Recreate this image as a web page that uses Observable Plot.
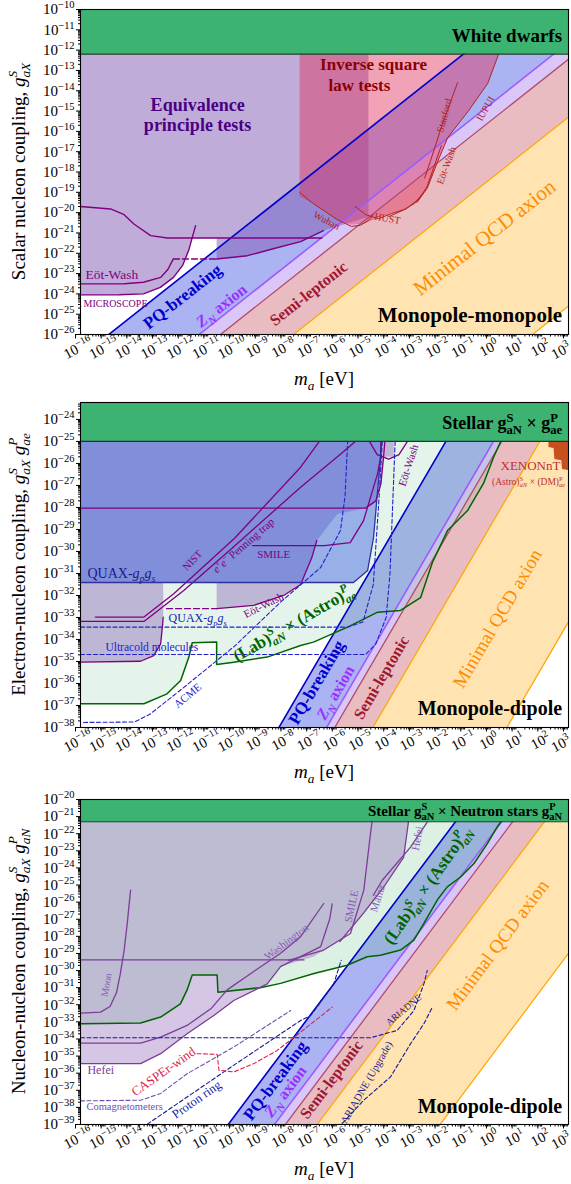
<!DOCTYPE html>
<html><head><meta charset="utf-8">
<script src="https://cdn.jsdelivr.net/npm/d3@7"></script>
<script src="https://cdn.jsdelivr.net/npm/@observablehq/plot@0.6"></script>
<style>
body{margin:0;background:#fff;}
#chart{line-height:0;}
#chart svg{display:block;}
</style></head><body><div id="chart"></div><script>
const FONT = "'Liberation Serif', 'DejaVu Serif', serif";
const W = 571;

// ---------- tick labels (exponents of ten) ----------
const xTickExps = [-16,-15,-14,-13,-12,-11,-10,-9,-8,-7,-6,-5,-4,-3,-2,-1,0,1,2,3];
const p1YTickExps = [-26,-25,-24,-23,-22,-21,-20,-19,-18,-17,-16,-15,-14,-13,-12,-11,-10];
const p2YTickExps = [-38,-37,-36,-35,-34,-33,-32,-31,-30,-29,-28,-27,-26,-25,-24];
const p3YTickExps = [-39,-38,-37,-36,-35,-34,-33,-32,-31,-30,-29,-28,-27,-26,-25,-24,-23,-22,-21,-20];
const p1YDomain = [-26, -10];
const p2YDomain = [-38, -23.23];
const p3YDomain = [-39, -20];

// ---------- data: [log10 m_a, log10 g] ----------
// Panel 1: monopole-monopole
const p1WD = [-12.2, -10];
const p1PQ = [[-16,-27.1],[3,-8.1]];
const p1ZN = [[-16,-30.62],[3,-11.62]];
const p1SL = [[-16,-31.45],[3,-12.45]];
const p1QCDup = [[-16,-34.3],[3,-15.3]];
const p1QCDlo = [[-16,-43.6],[3,-24.6]];
const p1EP = [[-16,-10],[-16,-24.05],[-14.5,-24.04],[-13.55,-24.0],[-12.89,-23.68],[-12.38,-23.19],[-12.03,-22.61],[-11.79,-21.87],[-11.65,-21.25],[-10.7,-21.25],[-10.7,-22.28],[-9.5,-22.12],[-8.5,-21.78],[-7.43,-21.43],[-6.54,-20.89],[-4.79,-20.2],[-4.79,-10]];
const p1ISL = [[-7.47,-10],[-7.47,-19.2],[-7.0,-19.5],[-6.0,-20.35],[-5.5,-20.6],[-5.0,-20.55],[-4.6,-20.35],[-4.2,-20.15],[-3.9,-20.05],[-3.4,-19.85],[-2.9,-19.5],[-2.5,-18.8],[-2.1,-17.5],[-1.7,-16.3],[-0.9,-15.0],[-0.15,-13.65],[0.28,-12.2],[0.5,-10]];
const p1Micro = [[-16,-24.05],[-14.5,-24.04],[-13.55,-24.0],[-12.89,-23.68],[-12.38,-23.19],[-12.03,-22.61],[-11.79,-21.87],[-11.52,-20.64]];
const p1EotLow1 = [[-16,-23.51],[-14.3,-23.5],[-13.55,-23.43],[-12.88,-23.19],[-12.6,-22.8],[-12.42,-22.36],[-12.38,-22.28]];
const p1EotDash = [[-12.38,-22.28],[-10.7,-22.28]];
const p1EotLow2 = [[-10.7,-22.28],[-9.5,-22.12],[-8.5,-21.78],[-7.43,-21.43],[-6.54,-20.89]];
const p1EotUp = [[-16,-19.7],[-14.83,-19.82],[-14.3,-20.1],[-13.92,-20.56],[-13.27,-21.13],[-12.62,-21.25],[-6.6,-21.25]];
const p1Wuhan = [[-7.47,-19.0],[-7.0,-19.5],[-6.0,-20.35],[-5.45,-20.68],[-5.1,-20.62],[-4.8,-20.4],[-4.6,-20.1]];
const p1HUST = [[-5.3,-19.7],[-4.9,-20.1],[-4.4,-20.3],[-3.9,-20.05],[-3.4,-19.85],[-3.0,-19.55],[-2.7,-19.1]];
const p1EotRed = [[-4.0,-20.2],[-3.3,-19.8],[-2.8,-19.3],[-2.5,-18.7],[-2.2,-17.6],[-1.95,-16.7]];
const p1Stanford = [[-2.6,-18.3],[-2.37,-17.44],[-1.9,-15.6],[-1.32,-13.6]];
const p1IUPUI = [[-2.9,-19.5],[-2.5,-18.8],[-2.1,-17.5],[-1.7,-16.3],[-0.9,-15.0],[-0.15,-13.65],[0.28,-12.2]];

// Panel 2: electron-nucleon monopole-dipole
const p2Band = [-25, -23.23];
const p2PQ = [[-16,-53.45],[3,-15.45]];
const p2ZN = [[-16,-57.16],[3,-19.16]];
const p2SL = [[-16,-57.8],[3,-19.8]];
const p2QCDup = [[-16,-60.77],[3,-22.77]];
const p2QCDlo = [[-16,-71.2],[3,-33.2]];
const p2Green = [[-16,-36.92],[-13.53,-36.92],[-12.63,-36.47],[-12.1,-35.86],[-11.78,-34.8],[-11.65,-34.15],[-10.7,-34.12],[-10.7,-35.14],[-10.03,-35.03],[-8.73,-34.8],[-7.43,-34.27],[-6.93,-34.12],[-5.6,-33.44],[-4.43,-32.76],[-3.54,-32.68],[-2.76,-32.1],[-2.3,-30.5],[-1.71,-29.05],[-0.93,-28.14],[-0.31,-26.91],[0.08,-25.73],[0.36,-25.0],[0.5,-23.23]];
const p2Purple = [[-16,-23.23],[-16,-35.03],[-13.66,-34.99],[-13.15,-34.73],[-12.88,-34.2],[-12.8,-33.29],[-12.78,-32.99],[-12.78,-31.41],[-10.7,-31.41],[-10.7,-32.6],[-9.26,-32.45],[-8.09,-32.0],[-7.43,-31.5],[-7.0,-30.3],[-6.8,-29.5],[-6.0,-28.3],[-4.9,-28.03],[-4.5,-27.7],[-4.3,-26.9],[-4.2,-25.7],[-3.8,-25.7],[-3.8,-23.23]];
const p2QUAX = [[-16,-23.23],[-16,-31.41],[-5.37,-31.41],[-4.82,-30.86],[-4.59,-29.36],[-4.32,-25.73],[-4.28,-23.23]];
const p2Micro = [[-16,-35.03],[-13.66,-34.99],[-13.15,-34.73],[-12.88,-34.2],[-12.8,-33.29],[-12.78,-32.99]];
const p2EotDash = [[-12.65,-32.6],[-10.7,-32.6]];
const p2EotLow = [[-10.7,-32.6],[-9.26,-32.45],[-8.09,-32.0],[-7.43,-31.5],[-7.0,-30.3],[-6.8,-29.5]];
const p2NIST = [[-15.42,-32.98],[-13.53,-32.98],[-12.37,-31.92],[-10.0,-29.4],[-7.43,-26.17],[-6.7,-25.0]];
const p2Penning = [[-16,-33.18],[-13.53,-33.18],[-11.98,-31.77],[-10.0,-29.75],[-7.43,-27.08],[-5.8,-25.5],[-5.3,-25.0]];
const p2Line28 = [[-16,-28.03],[-4.9,-28.03],[-4.5,-27.7],[-4.3,-26.9],[-4.2,-25.7],[-4.15,-25.0]];
const p2SMILE = [[-9.3,-29.73],[-6.5,-29.73],[-5.5,-29.6],[-4.98,-28.6],[-4.43,-26.45],[-4.32,-25.73],[-4.3,-25.0]];
const p2EotU = [[-4.75,-25.0],[-4.45,-25.6],[-4.0,-25.8],[-3.6,-25.6],[-3.27,-25.0]];
const p2QUAXline = [[-16,-31.41],[-5.37,-31.41],[-4.82,-30.86],[-4.59,-29.36],[-4.32,-25.73],[-4.28,-25.0]];
const p2QUAXdash = [[-16,-33.44],[-5.6,-33.44],[-5.0,-33.2],[-4.6,-31.5],[-4.4,-28.0],[-4.25,-25.0]];
const p2Ultracold = [[-16,-34.68],[-4.9,-34.68],[-4.5,-34.2],[-4.1,-33.0],[-3.95,-31.0],[-3.85,-28.0],[-3.75,-25.0]];
const p2ACME = [[-15.88,-37.77],[-13.9,-37.75],[-13.3,-37.4],[-12.0,-36.2],[-10.0,-34.3],[-8.21,-32.3],[-6.65,-30.73],[-5.88,-29.05],[-5.7,-27.5],[-5.6,-25.0]];
const p2Xenon = [[2.22,-25],[2.22,-25.25],[2.42,-25.3],[2.45,-25.8],[2.72,-25.85],[2.75,-26.25],[3,-26.3],[3,-25]];

// Panel 3: nucleon-nucleon monopole-dipole
const p3Band = [-21.3, -20];
const p3PQ = [[-16,-50.5],[3,-12.5]];
const p3ZN = [[-16,-54.1],[3,-16.1]];
const p3SL = [[-16,-54.95],[3,-16.95]];
const p3QCDup = [[-16,-57.43],[3,-19.43]];
const p3QCDlo = [[-16,-67],[3,-29]];
const p3Green = [[-16,-33.11],[-13.66,-33.07],[-12.88,-32.72],[-12.11,-31.95],[-11.85,-31.13],[-11.65,-30.26],[-10.68,-30.26],[-10.65,-31.27],[-9.0,-31.0],[-8.21,-30.75],[-6.91,-30.17],[-5.62,-29.69],[-4.84,-29.19],[-4.32,-29.1],[-3.54,-28.8],[-3.02,-28.22],[-2.63,-27.24],[-2.11,-25.88],[-1.72,-25.11],[-1.2,-24.53],[-0.68,-23.74],[-0.16,-22.58],[0.22,-21.61],[0.36,-21.32],[0.5,-20]];
const p3Lilac = [[-16,-20],[-16,-35.44],[-13.66,-35.44],[-12.88,-34.86],[-11.85,-33.69],[-10.81,-32.63],[-10.03,-31.75],[-8.73,-30.78],[-8.21,-29.77],[-6.93,-29.2],[-5.88,-28.22],[-4.98,-26.64],[-4.2,-25.13],[-3.42,-23.38],[-3.23,-21.3],[-3.2,-20]];
const p3Moon = [[-16,-32.49],[-15.22,-32.43],[-14.85,-32.1],[-14.6,-31.3],[-14.45,-30.2],[-14.3,-28.8],[-14.18,-27.24],[-14.05,-25.3]];
const p3Line29 = [[-16,-29.38],[-7.3,-29.38]];
const p3HefeiUp = [[-16,-34.24],[-13.66,-34.24],[-12.88,-33.89],[-11.85,-33.21],[-10.9,-32.2],[-10.29,-31.13],[-9.2,-30.0],[-8.21,-28.99],[-7.43,-28.02],[-6.53,-26.08]];
const p3HefeiLow = [[-16,-35.44],[-13.66,-35.44],[-12.88,-34.86],[-11.85,-33.69],[-10.81,-32.63],[-10.03,-31.75],[-8.73,-30.78],[-8.21,-29.77],[-6.65,-28.6],[-6.3,-27.0],[-6.2,-26.1]];
const p3SMILE = [[-7.9,-29.4],[-6.53,-28.8],[-5.49,-27.83],[-4.97,-25.3],[-4.71,-22.0],[-4.65,-21.3]];
const p3Mainz = [[-4.6,-25.6],[-4.25,-24.72],[-3.15,-22.78],[-2.5,-21.32]];
const p3Hefei2 = [[-5.9,-28.3],[-4.98,-26.64],[-4.2,-25.13],[-3.42,-23.38],[-3.23,-21.3]];
const p3ARIADNE = [[-16,-33.93],[-4.71,-33.93],[-3.67,-33.5],[-3.02,-32.34],[-2.63,-30.78],[-2.5,-30.0]];
const p3ARIADNEup = [[-5.81,-38.94],[-4.97,-37.58],[-3.93,-36.22],[-3.15,-34.28],[-2.63,-33.11],[-2.3,-32.14]];
const p3Proton = [[-13.4,-38.98],[-10,-35.5],[-7.43,-32.92],[-7.04,-32.63],[-6.14,-30.78],[-5.85,-29.4]];
const p3Comag = [[-16,-37.62],[-13.66,-37.58],[-12.88,-37.19],[-11.85,-36.03],[-10.03,-34.47],[-7.82,-32.34]];
const p3CASPEr = [[-11.46,-34.86],[-10.68,-34.9],[-10.61,-35.83],[-10.03,-35.93],[-9.25,-35.44],[-8.34,-34.67],[-7.43,-33.6],[-6.2,-32.14]];

// ---------- colours ----------
const C = {pq:"#3040e0", zn:"#b080f0", sl:"#c04050", qcd:"#ffa500", purple:"#8159b1", isl:"#e03060",
  mint:"#50b478", quax:"#385de3", green:"#3cb371",
  pqLine:"#0000cd", znLine:"#9b5cff", slLine:"#b04a6e", qcdLine:"#ffa500",
  exp:"#800080", exp3:"#7d3c98", red:"#b22222", dashBlue:"#2222cc", navy:"#1a1a8c", dkgreen:"#006400"};

// ---------- helpers ----------
const L = a => a.map(([m, g]) => ({m: 10 ** m, g: 10 ** g}));
const poly = (a, fill, op) => Plot.line(L(a), {x: "m", y: "g", curve: "linear-closed", fill, fillOpacity: op, stroke: "none", clip: true});
const band = (l1, l2, fill, op) => poly([...l1, ...l2.slice().reverse()], fill, op);
const ln = (a, stroke, w = 1.3, dash) => Plot.line(L(a), {x: "m", y: "g", stroke, strokeWidth: w, strokeDasharray: dash, clip: true});
const lbl = (t, m, g, o = {}) => Plot.text([{m: 10 ** m, g: 10 ** g, t}], {x: "m", y: "g", text: "t", ...o});
const greenBand = (b) => [
  Plot.rect([{x1: 1e-16, x2: 1e3, y1: 10 ** b[0], y2: 10 ** b[1]}], {x1: "x1", x2: "x2", y1: "y1", y2: "y2", fill: C.green}),
  Plot.ruleY([10 ** b[0]], {stroke: "#1b3a26", strokeWidth: 1.2})
];
const bandsOf = (pq, zn, sl, q1, q2) => [
  band(pq, zn, C.pq, 0.4), band(zn, sl, C.zn, 0.45), band(sl, q1, C.sl, 0.35), band(q1, q2, C.qcd, 0.3)
];
const bandLines = (pq, zn, sl, q1, q2) => [
  ln(pq, C.pqLine, 1.6), ln(zn, C.znLine, 1.6), ln(sl, C.slLine, 1.3), ln(q1, C.qcdLine, 1.2), ln(q2, C.qcdLine, 1.2)
];
const fmtExp = d => { const e = Math.round(Math.log10(d)); return "10^{" + (e < 0 ? "\u2212" + (-e) : String(e)) + "}"; };
function minorTicks(lo, hi) {
  const out = [];
  for (let e = Math.floor(lo); e < Math.ceil(hi); e++)
    for (let k = 2; k <= 9; k++) { const v = k * 10 ** e; if (v >= 10 ** lo && v <= 10 ** hi) out.push(v); }
  return out;
}

function makePanel({height, mt, mb, yDom, yTicks, marks}) {
  return Plot.plot({
    width: W, height, marginLeft: 80, marginRight: 3, marginTop: mt, marginBottom: mb,
    x: {type: "log", domain: [1e-16, 1e3]},
    y: {type: "log", domain: [10 ** yDom[0], 10 ** yDom[1]]},
    style: {fontFamily: FONT, fontSize: "14px", color: "black", background: "white", overflow: "visible"},
    marks: [
      ...marks,
      Plot.frame({stroke: "black", strokeWidth: 1.1}),
      Plot.axisX({ticks: xTickExps.map(e => 10 ** e), tickSize: 4.5, tickRotate: -28, textAnchor: "middle", lineAnchor: "top", tickPadding: 4, dx: -5, tickFormat: fmtExp, fontSize: 14.5, label: null}),
      Plot.axisX({ticks: minorTicks(-16, 3), tickSize: 2.5, tickFormat: () => "", label: null}),
      Plot.axisY({ticks: yTicks.map(e => 10 ** e), tickSize: 4, tickPadding: 2, tickFormat: fmtExp, fontSize: 15, label: null}),
      Plot.axisY({ticks: minorTicks(yDom[0], yDom[1]), tickSize: 2, tickFormat: () => "", label: null})
    ]
  });
}

// ---------- panel 1 ----------
const r1 = -38, r2 = -59.6, r3 = -53.2;
const p1 = makePanel({height: 393, mt: 9, mb: 59, yDom: p1YDomain, yTicks: p1YTickExps, marks: [
  ...bandsOf(p1PQ, p1ZN, p1SL, p1QCDup, p1QCDlo),
  poly(p1EP, C.purple, 0.5),
  poly(p1ISL, C.isl, 0.45),
  ...bandLines(p1PQ, p1ZN, p1SL, p1QCDup, p1QCDlo),
  ln(p1Micro, C.exp, 1.4), ln(p1EotLow1, C.exp, 1.4), ln(p1EotDash, C.exp, 1.4, "6,3"), ln(p1EotLow2, C.exp, 1.4), ln(p1EotUp, C.exp, 1.4),
  ln(p1Wuhan, C.red, 1), ln(p1HUST, C.red, 1), ln(p1EotRed, C.red, 1), ln(p1Stanford, C.red, 1), ln(p1IUPUI, C.red, 1),
  ...greenBand(p1WD),
  lbl("White dwarfs", 2.75, -11.28, {fontSize: 19, fontWeight: "bold", textAnchor: "end"}),
  lbl("Monopole-monopole", 2.75, -25.07, {fontSize: 21, fontWeight: "bold", textAnchor: "end"}),
  lbl("Equivalence", -11.44, -14.72, {fontSize: 18, fontWeight: "bold", fill: "#4b0082"}),
  lbl("principle tests", -11.44, -15.72, {fontSize: 18, fontWeight: "bold", fill: "#4b0082"}),
  lbl("Inverse square", -4.59, -12.72, {fontSize: 17, fontWeight: "bold", fill: "#8b0000"}),
  lbl("law tests", -5.14, -13.72, {fontSize: 17, fontWeight: "bold", fill: "#8b0000"}),
  lbl("Eöt-Wash", -15.81, -23.05, {fontSize: 13.5, fill: C.exp, textAnchor: "start"}),
  lbl("MICROSCOPE", -15.88, -24.48, {fontSize: 10, fill: C.exp, textAnchor: "start"}),
  lbl("PQ-breaking", -12.03, -24.14, {fontSize: 17, fontWeight: "bold", fill: C.pqLine, rotate: r1}),
  lbl("*Z*_[N] axion", -10.51, -24.58, {fontSize: 16, fontWeight: "bold", fill: "#9b30ff", rotate: r1}),
  lbl("Semi-leptonic", -7.12, -23.99, {fontSize: 16, fontWeight: "bold", fill: "#a01830", rotate: r1}),
  lbl("Minimal QCD axion", -0.27, -21.23, {fontSize: 21, fill: "#ff8c00", rotate: r1}),
  lbl("Wuhan", -6.42, -20.39, {fontSize: 10, fill: C.red, rotate: 28}),
  lbl("HUST", -4.05, -20.3, {fontSize: 10, fill: C.red, rotate: 10}),
  lbl("Eöt-Wash", -1.75, -17.68, {fontSize: 10, fill: C.red, rotate: -70}),
  lbl("Stanford", -1.83, -15.22, {fontSize: 10, fill: C.red, rotate: -75}),
  lbl("IUPUI", -0.23, -14.88, {fontSize: 10, fill: C.red, rotate: -60})
]});

// ---------- panel 2 ----------
const p2 = makePanel({height: 393, mt: 9, mb: 59, yDom: p2YDomain, yTicks: p2YTickExps, marks: [
  ...bandsOf(p2PQ, p2ZN, p2SL, p2QCDup, p2QCDlo),
  poly([...p2Green, [-16, -23.23]], C.mint, 0.15),
  poly(p2Purple, C.purple, 0.4),
  poly(p2QUAX, C.quax, 0.45),
  ...bandLines(p2PQ, p2ZN, p2SL, p2QCDup, p2QCDlo),
  ln(p2Green, C.dkgreen, 1.5),
  ln(p2Micro, C.exp), ln(p2EotDash, C.exp, 1.3, "6,3"), ln(p2EotLow, C.exp), ln(p2NIST, C.exp), ln(p2Penning, C.exp),
  ln(p2Line28, C.exp), ln(p2SMILE, C.exp), ln(p2EotU, C.exp),
  ln(p2QUAXline, "#3030a0", 1.3),
  ln(p2QUAXdash, C.dashBlue, 1.1, "4,2.5"), ln(p2Ultracold, C.dashBlue, 1.1, "4,2.5"), ln(p2ACME, C.dashBlue, 1.1, "4,2.5"),
  poly(p2Xenon, "#c8501e", 1),
  ...greenBand(p2Band),
  lbl("Stellar g^{S}_{aN} × g^{P}_{ae}", 2.75, -24.18, {fontSize: 18, fontWeight: "bold", textAnchor: "end"}),
  lbl("Monopole-dipole", 2.75, -37.14, {fontSize: 20, fontWeight: "bold", textAnchor: "end"}),
  lbl("QUAX-*g*_[p]*g*_[s]", -15.73, -31.0, {fontSize: 14, fill: C.navy, textAnchor: "start"}),
  lbl("NIST", -11.64, -30.41, {fontSize: 10.5, fill: C.exp, rotate: -47}),
  lbl("*e*^{+}*e*^{\u2212} Penning trap", -9.65, -29.73, {fontSize: 11, fill: C.exp, rotate: -41}),
  lbl("SMILE", -8.48, -30.14, {fontSize: 11, fill: C.exp}),
  lbl("Eöt-Wash", -8.87, -32.45, {fontSize: 11, fill: C.exp, rotate: -27}),
  lbl("QUAX-*g*_[p]*g*_[s]", -12.57, -33.05, {fontSize: 12, fill: "#2020b0", textAnchor: "start"}),
  lbl("Ultracold molecules", -15.03, -34.36, {fontSize: 11.5, fill: C.dashBlue, textAnchor: "start"}),
  lbl("ACME", -11.83, -36.55, {fontSize: 11, fill: C.dashBlue, rotate: -40}),
  lbl("(Lab)^[S]_[aN] × (Astro)^[P]_[ae]", -7.71, -33.27, {fontSize: 17, fontWeight: "bold", fill: C.dkgreen, rotate: -30}),
  lbl("Eöt-Wash", -3.23, -26.09, {fontSize: 11, fill: C.exp, rotate: -72}),
  lbl("XENONnT", 1.52, -26.09, {fontSize: 13, fill: "#c03030"}),
  lbl("(Astro)^{S}_[aN] × (DM)^{P}_[ae]", 1.45, -26.82, {fontSize: 9.5, fill: "#c03030"}),
  lbl("PQ-breaking", -6.81, -35.95, {fontSize: 17, fontWeight: "bold", fill: C.pqLine, rotate: r2}),
  lbl("*Z*_[N] axion", -6.07, -36.41, {fontSize: 16, fontWeight: "bold", fill: "#9b30ff", rotate: r2}),
  lbl("Semi-leptonic", -4.28, -35.73, {fontSize: 16, fontWeight: "bold", fill: "#a01830", rotate: r2}),
  lbl("Minimal QCD axion", 0.24, -33.05, {fontSize: 19, fill: "#ff8c00", rotate: r2})
]});

// ---------- panel 3 ----------
const p3 = makePanel({height: 398, mt: 13, mb: 60, yDom: p3YDomain, yTicks: p3YTickExps, marks: [
  ...bandsOf(p3PQ, p3ZN, p3SL, p3QCDup, p3QCDlo),
  poly([...p3Green, [-16, -20]], C.mint, 0.2),
  poly(p3Lilac, C.purple, 0.34),
  ...bandLines(p3PQ, p3ZN, p3SL, p3QCDup, p3QCDlo),
  ln(p3Green, C.dkgreen, 1.5),
  ln(p3Moon, C.exp3), ln(p3Line29, C.exp3), ln(p3HefeiUp, C.exp3), ln(p3HefeiLow, C.exp3),
  ln(p3SMILE, C.exp3), ln(p3Mainz, C.exp3), ln(p3Hefei2, C.exp3),
  ln(p3ARIADNE, C.navy, 1.1, "4,2.5"), ln(p3ARIADNEup, C.navy, 1.1, "4,2.5"), ln(p3Proton, C.navy, 1.1, "4,2.5"),
  ln(p3Comag, "#7050b0", 1.1, "4,2.5"), ln(p3CASPEr, "#e0204a", 1.1, "4,2.5"),
  ...greenBand(p3Band),
  lbl("Stellar g^{S}_{aN} × Neutron stars g^{P}_{aN}", 2.75, -20.7, {fontSize: 15, fontWeight: "bold", textAnchor: "end"}),
  lbl("Monopole-dipole", 2.75, -37.95, {fontSize: 20, fontWeight: "bold", textAnchor: "end"}),
  lbl("Moon", -14.99, -30.84, {fontSize: 10, fill: "#8a5cb8", rotate: -80}),
  lbl("Washington", -7.98, -28.33, {fontSize: 11, fill: "#8a5cb8", rotate: -37}),
  lbl("SMILE", -5.45, -26.24, {fontSize: 11, fill: "#8a5cb8", rotate: -78}),
  lbl("Mainz", -4.43, -25.77, {fontSize: 11, fill: "#8a5cb8", rotate: -72}),
  lbl("Hefei", -2.88, -22.27, {fontSize: 11, fill: "#8a5cb8", rotate: -80}),
  lbl("Hefei", -15.73, -35.85, {fontSize: 12, fill: C.exp3, textAnchor: "start"}),
  lbl("CASPEr-wind", -12.77, -35.91, {fontSize: 13, fill: "#e0204a", rotate: -35}),
  lbl("Comagnetometers", -15.77, -37.95, {fontSize: 10.5, fill: "#7050b0", textAnchor: "start"}),
  lbl("Proton ring", -11.48, -37.54, {fontSize: 12.5, fill: "#1a1aa0", rotate: -35}),
  lbl("ARIADNE", -3.42, -32.3, {fontSize: 9.5, fill: C.navy, rotate: -40}),
  lbl("ARIADNE (Upgrade)", -4.86, -36.55, {fontSize: 10.5, fill: C.navy, rotate: -60}),
  lbl("(Lab)^[S]_[aN] × (Astro)^[P]_[aN]", -2.49, -25.01, {fontSize: 17, fontWeight: "bold", fill: C.dkgreen, rotate: -55}),
  lbl("PQ-breaking", -8.41, -36.43, {fontSize: 17, fontWeight: "bold", fill: C.pqLine, rotate: r3}),
  lbl("*Z*_[N] axion", -8.02, -37.07, {fontSize: 16, fontWeight: "bold", fill: "#9b30ff", rotate: r3}),
  lbl("Semi-leptonic", -6.23, -36.38, {fontSize: 16, fontWeight: "bold", fill: "#a01830", rotate: r3}),
  lbl("Minimal QCD axion", 0.24, -28.51, {fontSize: 19, fill: "#ff8c00", rotate: r3})
]});

// ---------- assemble ----------
const root = document.getElementById("chart");
const ns = "http://www.w3.org/2000/svg";
const panels = [
  {svg: p1, ylab: "Scalar nucleon coupling, *g*^[S]_[aX]", yc: 171.5, xlabY: 385},
  {svg: p2, ylab: "Electron-nucleon coupling, *g*^[S]_[aX] *g*^[P]_[ae]", yc: 171.5, xlabY: 385},
  {svg: p3, ylab: "Nucleon-nucleon coupling, *g*^[S]_[aX] *g*^[P]_[aN]", yc: 175.5, xlabY: 389}
];

function rich(el) {
  const s = el.textContent;
  if (!/\^[\{\[]|_[\{\[]|\*/.test(s)) return;
  const fs = parseFloat(getComputedStyle(el).fontSize) || 14;
  const re = /(\^\{[^}]*\}|\^\[[^\]]*\]|_\{[^}]*\}|_\[[^\]]*\]|\*[^*]+\*)/g;
  const parts = s.split(re).filter(p => p);
  while (el.firstChild) el.removeChild(el.firstChild);
  let cur = 0, supLen = 0, prev = "n", pend = 0;
  for (const p of parts) {
    let kind = "n", txt = p, ital = false;
    if (/^\^\{/.test(p)) { kind = "sup"; txt = p.slice(2, -1); }
    else if (/^\^\[/.test(p)) { kind = "sup"; txt = p.slice(2, -1); ital = true; }
    else if (/^_\{/.test(p)) { kind = "sub"; txt = p.slice(2, -1); }
    else if (/^_\[/.test(p)) { kind = "sub"; txt = p.slice(2, -1); ital = true; }
    else if (/^\*.+\*$/.test(p)) { txt = p.slice(1, -1); ital = true; }
    const t = document.createElementNS(ns, "tspan");
    t.textContent = txt;
    const target = kind === "sup" ? -0.4 * fs : kind === "sub" ? 0.28 * fs : 0;
    if (Math.abs(target - cur) > 0.01) t.setAttribute("dy", (target - cur).toFixed(2));
    cur = target;
    if (kind !== "n") t.setAttribute("font-size", (0.7 * fs).toFixed(2));
    if (ital) t.setAttribute("font-style", "italic");
    let dx = 0;
    if (kind === "sub" && prev === "sup") dx = -supLen;
    else if (pend) dx = pend;
    if (dx) t.setAttribute("dx", dx.toFixed(2));
    el.appendChild(t);
    const len = t.getComputedTextLength();
    pend = 0;
    if (kind === "sup") supLen = len;
    if (kind === "sub" && prev === "sup") pend = Math.max(0, supLen - len);
    prev = kind;
  }
}

for (const P of panels) {
  root.appendChild(P.svg);
  const g = d3.select(P.svg);
  g.append("text").attr("transform", `translate(25,${P.yc}) rotate(-90)`)
    .attr("text-anchor", "middle").attr("font-size", 19).attr("font-family", FONT).attr("fill", "black").text(P.ylab);
  g.append("text").attr("x", 324).attr("y", P.xlabY)
    .attr("text-anchor", "middle").attr("font-size", 19).attr("font-family", FONT).attr("fill", "black").text("*m*_[a] [eV]");
  P.svg.querySelectorAll("text").forEach(rich);
  // keep the last x tick label (10^3) inside the page edge
  const xl = P.svg.querySelector('g[aria-label="x-axis tick label"]');
  if (xl) {
    const texts = xl.querySelectorAll("text");
    const last = texts[texts.length - 1];
    if (last) { last.setAttribute("text-anchor", "end"); last.setAttribute("dx", "4"); }
  }
}
</script></body></html>
